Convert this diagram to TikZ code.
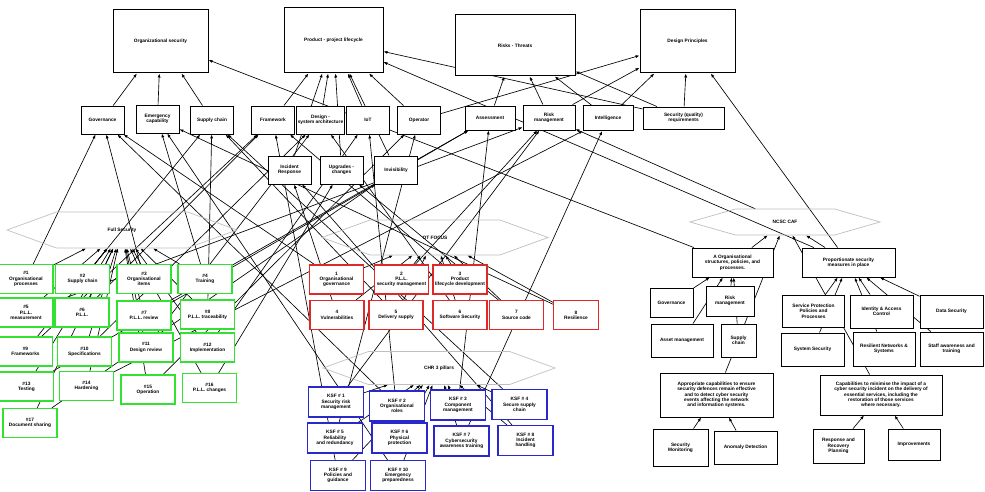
\documentclass[tikz,border=0pt]{standalone}
\usepackage{fontspec}
\setmainfont{Liberation Sans}
\usetikzlibrary{arrows.meta,shapes.symbols,backgrounds}
\definecolor{gline}{RGB}{50,225,50}
\definecolor{rline}{RGB}{225,40,40}
\definecolor{bline}{RGB}{40,40,205}

\begin{document}
\begin{tikzpicture}[x=1pt, y=-1pt, font=\fontsize{4.8}{5.3}\selectfont\bfseries,
  box/.style={draw, fill=white, align=center, inner sep=1pt, line width=0.9pt},
  topic/.style={box, line width=1pt},
  concept/.style={box, minimum width=43pt, minimum height=28pt},
  greenbox/.style={box, draw=gline, line width=1.1pt, minimum width=54pt, minimum height=29pt},
  redbox/.style={box, draw=rline, line width=1.1pt, minimum width=54pt, minimum height=29pt},
  bluebox/.style={box, draw=bline, line width=1.1pt, minimum width=55pt, minimum height=30pt},
  hexa/.style={signal, signal to=west and east, draw=gray!50, line width=0.7pt, inner sep=1pt, signal pointer angle=40},
  link/.style={-{Latex[length=4pt,width=3pt]}, line width=0.65pt}]
\useasboundingbox (0,0) rectangle (985,492);
\node[topic, minimum width=95pt, minimum height=63pt] (orgsec) at (160.5,41.5) {Organizational security};
\node[topic, minimum width=99pt, minimum height=65pt] (plc) at (333.5,40.5) {Product - project lifecycle};
\node[topic, minimum width=120pt, minimum height=61pt] (risks) at (515,45.5) {Risks - Threats};
\node[topic, minimum width=95pt, minimum height=63pt] (designp) at (687.5,41.5) {Design Principles};
\node[concept] (gov) at (102.5,120) {Governance};
\node[concept] (emerg) at (157.5,119) {Emergency\\capability};
\node[concept] (supply) at (212,120) {Supply chain};
\node[concept] (frame) at (273,120) {Framework};
\node[concept] (design) at (320.5,120) {Design -\\system architecture};
\node[concept] (iot) at (368,120) {IoT};
\node[concept] (operator) at (419,120) {Operator};
\node[concept, minimum width=50pt, minimum height=24pt] (assess) at (490,118) {Assessment};
\node[concept, minimum width=52pt, minimum height=25pt] (riskmgmt) at (549,117.5) {Risk\\management};
\node[concept, minimum width=50pt, minimum height=25pt] (intel) at (608,118) {Intelligence};
\node[concept, minimum width=81pt, minimum height=22pt] (secreq) at (683.5,118) {Security (quality)\\requirements};
\node[concept] (incident) at (289.5,170) {Incident\\Response};
\node[concept] (upgrade) at (341.5,170) {Upgrades -\\changes};
\node[concept] (invis) at (396,170) {Invisibility};
\node[hexa, minimum width=230pt, minimum height=36pt] (ghex) at (122,230) {Full Security};
\node[hexa, minimum width=226pt, minimum height=35pt] (rhex) at (435,237.5) {OT FOCUS};
\node[hexa, minimum width=232pt, minimum height=33pt] (bhex) at (439,368) {CHR 3 pillars};
\node[hexa, minimum width=190pt, minimum height=26pt, signal pointer angle=32] (nhex) at (785,222) {NCSC CAF};
\node[greenbox] (g1) at (26,279) {\#1\\Organisational\\processes};
\node[greenbox] (g2) at (82.5,279) {\#2\\Supply chain};
\node[greenbox] (g3) at (144,279) {\#3\\Organisational\\items};
\node[greenbox] (g4) at (205,279) {\#4\\Training};
\node[greenbox] (g5) at (26,312.5) {\#5\\P.L.L.\\measurement};
\node[greenbox] (g6) at (82,312.5) {\#6\\P.L.L.};
\node[greenbox] (g7) at (144,315.5) {\#7\\P.L.L. review};
\node[greenbox] (g8) at (207.5,314.5) {\#8\\P.L.L. traceability};
\node[greenbox] (g9) at (25.5,351.5) {\#9\\Frameworks};
\node[greenbox] (g10) at (84.5,351.5) {\#10\\Specifications};
\node[greenbox] (g11) at (146,347.5) {\#11\\Design review};
\node[greenbox] (g12) at (207.5,347.5) {\#12\\Implementation};
\node[greenbox] (g13) at (26.5,386.5) {\#13\\Testing};
\node[greenbox] (g14) at (86.5,386) {\#14\\Hardening};
\node[greenbox] (g15) at (148,389.5) {\#15\\Operation};
\node[greenbox] (g16) at (209.5,388) {\#16\\P.L.L. changes};
\node[greenbox] (g17) at (30,423) {\#17\\Document sharing};
\node[redbox] (r1) at (336.5,279.5) {1\\Organisational\\governance};
\node[redbox] (r2) at (401.5,279.5) {2\\P.L.L.\\security management};
\node[redbox] (r3) at (460,279.5) {3\\Product\\lifecycle development};
\node[redbox] (r4) at (337,315) {4\\Vulnerabilities};
\node[redbox] (r5) at (396,315) {5\\Delivery supply};
\node[redbox] (r6) at (460,315) {6\\Software Security};
\node[redbox] (r7) at (516.5,315) {7\\Source code};
\node[redbox, minimum width=45pt] (r8) at (576,315) {8\\Resilience};
\node[bluebox] (b1) at (336,402) {KSF \# 1\\Security risk\\management};
\node[bluebox] (b2) at (397,406) {KSF \# 2\\Organisational\\roles};
\node[bluebox] (b3) at (458,405) {KSF \# 3\\Component\\management};
\node[bluebox] (b4) at (519.5,404.5) {KSF \# 4\\Secure supply\\chain};
\node[bluebox] (b5) at (335,438) {KSF \# 5\\Reliability\\and redundancy};
\node[bluebox] (b6) at (399.5,438) {KSF \# 6\\Physical\\protection};
\node[bluebox] (b7) at (461.5,441) {KSF \# 7\\Cybersecurity\\awareness training};
\node[bluebox] (b8) at (525.5,440.5) {KSF \# 8\\Incident\\handling};
\node[bluebox] (b9) at (338,475.5) {KSF \# 9\\Policies and\\guidance};
\node[bluebox] (b10) at (398,475.5) {KSF \# 10\\Emergency\\preparedness};
\node[box, minimum width=81pt, minimum height=29pt] (objA) at (732.5,262.5) {A Organisational\\structures, policies, and\\processes.};
\node[box, minimum width=93pt, minimum height=29pt] (objB) at (848.5,262.5) {Proportionate security\\measures in place};
\node[box, minimum width=43pt, minimum height=29pt] (gov2) at (671.5,302.5) {Governance};
\node[box, minimum width=48pt, minimum height=30pt] (risk2) at (730,301) {Risk\\management};
\node[box, minimum width=62pt, minimum height=33pt] (asset2) at (682,340.5) {Asset management};
\node[box, minimum width=35pt, minimum height=33pt] (supply2) at (738.5,340.5) {Supply\\chain};
\node[box, minimum width=62pt, minimum height=32pt] (spp) at (813.5,311) {Service Protection\\Policies and\\Processes};
\node[box, minimum width=63pt, minimum height=33pt] (iac) at (881.5,311.5) {Identity \& Access\\Control};
\node[box, minimum width=63pt, minimum height=33pt] (data) at (951.5,311.5) {Data Security};
\node[box, minimum width=63pt, minimum height=33pt] (sys) at (812.5,349.5) {System Security};
\node[box, minimum width=62pt, minimum height=34pt] (resil) at (884,349) {Resilient Networks \&\\Systems};
\node[box, minimum width=63pt, minimum height=34pt] (staff) at (951.5,349) {Staff awareness and\\training};
\node[box, minimum width=113pt, minimum height=44pt] (objC) at (716.5,395) {Appropriate capabilities to ensure\\security defences remain effective\\and to detect cyber security\\events affecting the network\\and information systems.};
\node[box, minimum width=122pt, minimum height=40pt] (objD) at (881,395) {Capabilities to minimise the impact of a\\cyber security incident on the delivery of\\essential services, including the\\restoration of those services\\where necessary.};
\node[box, minimum width=55pt, minimum height=37pt] (secmon) at (680.5,447.5) {Security\\Monitoring};
\node[box, minimum width=63pt, minimum height=33pt] (anomaly) at (745.5,447.5) {Anomaly Detection};
\node[box, minimum width=51pt, minimum height=34pt] (resp) at (838.5,446) {Response and\\Recovery\\Planning};
\node[box, minimum width=52pt, minimum height=31pt] (impr) at (914,444.5) {Improvements};
\begin{scope}[on background layer]
\foreach \from/\to in {gov/orgsec, emerg/orgsec, supply/orgsec, objA/orgsec,
  frame/plc, design/plc, iot/plc, operator/plc, incident/plc, upgrade/plc, invis/plc, secreq/plc, objB/plc,
  assess/risks, riskmgmt/risks, intel/risks, secreq/risks,
  secreq/designp, intel/designp, riskmgmt/designp, operator/designp, objB/designp, nhex/riskmgmt,
  g1/gov, g3/gov, g4/emerg, g2/supply, g8/supply, g6/frame, g9/frame, g10/design, g11/design, g12/iot,
  g15/operator, g7/assess, g13/assess, g5/riskmgmt, g14/intel, g16/upgrade, g17/invis,
  r1/gov, r8/emerg, r5/supply, r3/frame, r6/design, r2/riskmgmt, r4/incident, r7/upgrade,
  b2/gov, b10/emerg, b4/supply, b9/frame, b6/iot, b5/operator, b3/assess, b1/riskmgmt, b7/intel, b8/incident,
  gov2/objA, risk2/objA, asset2/objA, supply2/objA, spp/objB, iac/objB, data/objB, sys/objB, resil/objB, staff/objB,
  secmon/objC, anomaly/objC, resp/objD, impr/objD, objA/nhex, objB/nhex, objC/nhex, objD/nhex}
  \draw[link] (\from) -- (\to);
\foreach \i in {1,...,17}
  \draw[link] (g\i) -- (ghex);
\foreach \i in {1,...,8}
  \draw[link] (r\i) -- (rhex);
\foreach \i in {1,...,10}
  \draw[link] (b\i) -- (bhex);
\end{scope}
\end{tikzpicture}
\end{document}
